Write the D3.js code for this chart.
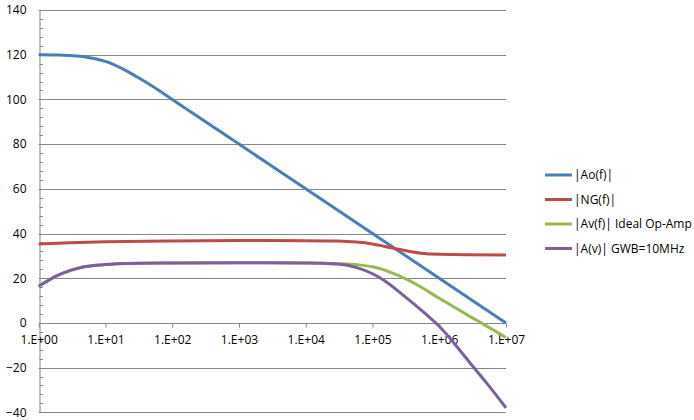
<!DOCTYPE html>
<html>
<head>
<meta charset="utf-8">
<script src="https://cdn.jsdelivr.net/npm/d3@7"></script>
<style>
  body { margin: 0; background: #fff; }
  text { font-family: "Open Sans", Lato, sans-serif; font-size: 12px; fill: #000; }
</style>
</head>
<body>
<svg width="694" height="420"></svg>
<script>
// Data (frequency in Hz, magnitudes in dB)
let freqAo = [1, 2, 3, 5, 10, 20, 30, 50, 100, 1e3, 1e4, 1e5, 1e6, 1e7];
let valAo  = [120, 119.9, 119.6, 119, 117, 113, 110, 106, 100, 80, 60, 40, 20, 0];

let freqNG = [1, 3, 10, 100, 1e3, 1e4, 3e4, 1e5, 2e5, 5e5, 1e6, 1e7];
let valNG  = [35.3, 35.9, 36.3, 36.7, 36.9, 36.8, 36.6, 35.3, 33.5, 31.3, 30.7, 30.4];

let freqAv = [1, 2, 3, 5, 10, 20, 100, 1e3, 1e4, 3e4, 6e4, 1e5, 2e5, 3e5, 5e5, 1e6, 2e6, 3e6, 5e6, 1e7];
let valAv  = [16.4, 21.5, 23.5, 25.2, 26.1, 26.6, 26.8, 26.9, 26.8, 26.5, 26, 25.1, 22.3, 20, 16.5, 11, 5.7, 2.6, -1.2, -6.5];

let freqGbw = [1, 2, 3, 5, 10, 20, 100, 1e3, 1e4, 3e4, 6e4, 1e5, 1.5e5, 3e5, 6e5, 1e6, 2e6, 3e6, 5e6, 1e7];
let valGbw  = [16.4, 21.5, 23.5, 25.2, 26.1, 26.6, 26.8, 26.9, 26.8, 26.3, 24.6, 22, 19, 12, 4.5, -1.5, -12, -18.5, -26.5, -38];

let seriesNames = ["|Ao(f)|", "|NG(f)|", "|Av(f)| Ideal Op-Amp", "|A(v)| GWB=10MHz"];
let colors = ["#4A7EBB", "#BE4B48", "#98B954", "#7D60A0"];
let yTicks = [-40, -20, 0, 20, 40, 60, 80, 100, 120, 140];
let xTicks = [1, 1e1, 1e2, 1e3, 1e4, 1e5, 1e6, 1e7];
let xTickLabels = ["1.E+00", "1.E+01", "1.E+02", "1.E+03", "1.E+04", "1.E+05", "1.E+06", "1.E+07"];

let svg = d3.select("svg");

let x = d3.scaleLog().domain([1, 1e7]).range([38.7, 506]);
let y = d3.scaleLinear().domain([-40, 140]).range([412.3, 10]);

// gridlines
svg.append("g")
  .selectAll("line")
  .data(yTicks)
  .join("line")
  .attr("x1", x(1)).attr("x2", x(1e7))
  .attr("y1", d => Math.round(y(d)) + 0.5).attr("y2", d => Math.round(y(d)) + 0.5)
  .attr("stroke", "#868686").attr("stroke-width", 1);

// y axis
let yAxis = d3.axisLeft(y).tickValues(yTicks).tickSize(0).tickPadding(13);
let gy = svg.append("g").attr("transform", "translate(" + (Math.round(x(1)) + 0.5) + ",0)").call(yAxis);
gy.select(".domain").attr("stroke", "#868686");
gy.selectAll("text").style("font-size", "12px").attr("fill", "#000");

// y minor ticks (inside)
let minor = d3.range(-40, 141, 4).filter(v => v % 20 !== 0);
svg.append("g")
  .selectAll("line")
  .data(minor)
  .join("line")
  .attr("x1", Math.round(x(1)) + 0.5).attr("x2", Math.round(x(1)) + 4)
  .attr("y1", d => Math.round(y(d)) + 0.5).attr("y2", d => Math.round(y(d)) + 0.5)
  .attr("stroke", "#868686");

// x axis at y = 0
let xAxis = d3.axisBottom(x).tickValues(xTicks).tickSize(4).tickPadding(8)
  .tickFormat((d, i) => xTickLabels[i]);
let gx = svg.append("g").attr("transform", "translate(0," + (Math.round(y(0)) + 0.5) + ")").call(xAxis);
gx.select(".domain").remove();
gx.selectAll("line").attr("stroke", "#868686");
gx.selectAll("text").style("font-size", "12px").attr("fill", "#000");

// series
let series = [
  [freqAo, valAo],
  [freqNG, valNG],
  [freqAv, valAv],
  [freqGbw, valGbw]
];
let line = d3.line().x(d => x(d[0])).y(d => y(d[1])).curve(d3.curveMonotoneX);
series.forEach((s, i) => {
  let pts = s[0].map((f, j) => [f, s[1][j]]);
  svg.append("path")
    .datum(pts)
    .attr("d", line)
    .attr("fill", "none")
    .attr("stroke", colors[i])
    .attr("stroke-width", 3)
    .attr("stroke-linejoin", "round");
});

// legend
let legend = svg.append("g").attr("transform", "translate(545,175)");
seriesNames.forEach((name, i) => {
  let row = legend.append("g").attr("transform", "translate(0," + (i * 24.5) + ")");
  row.append("line").attr("x1", 0).attr("x2", 27).attr("y1", 0).attr("y2", 0)
    .attr("stroke", colors[i]).attr("stroke-width", 3);
  row.append("text").attr("x", 29).attr("y", 0).attr("dy", "0.35em").text(name);
});
</script>
</body>
</html>
